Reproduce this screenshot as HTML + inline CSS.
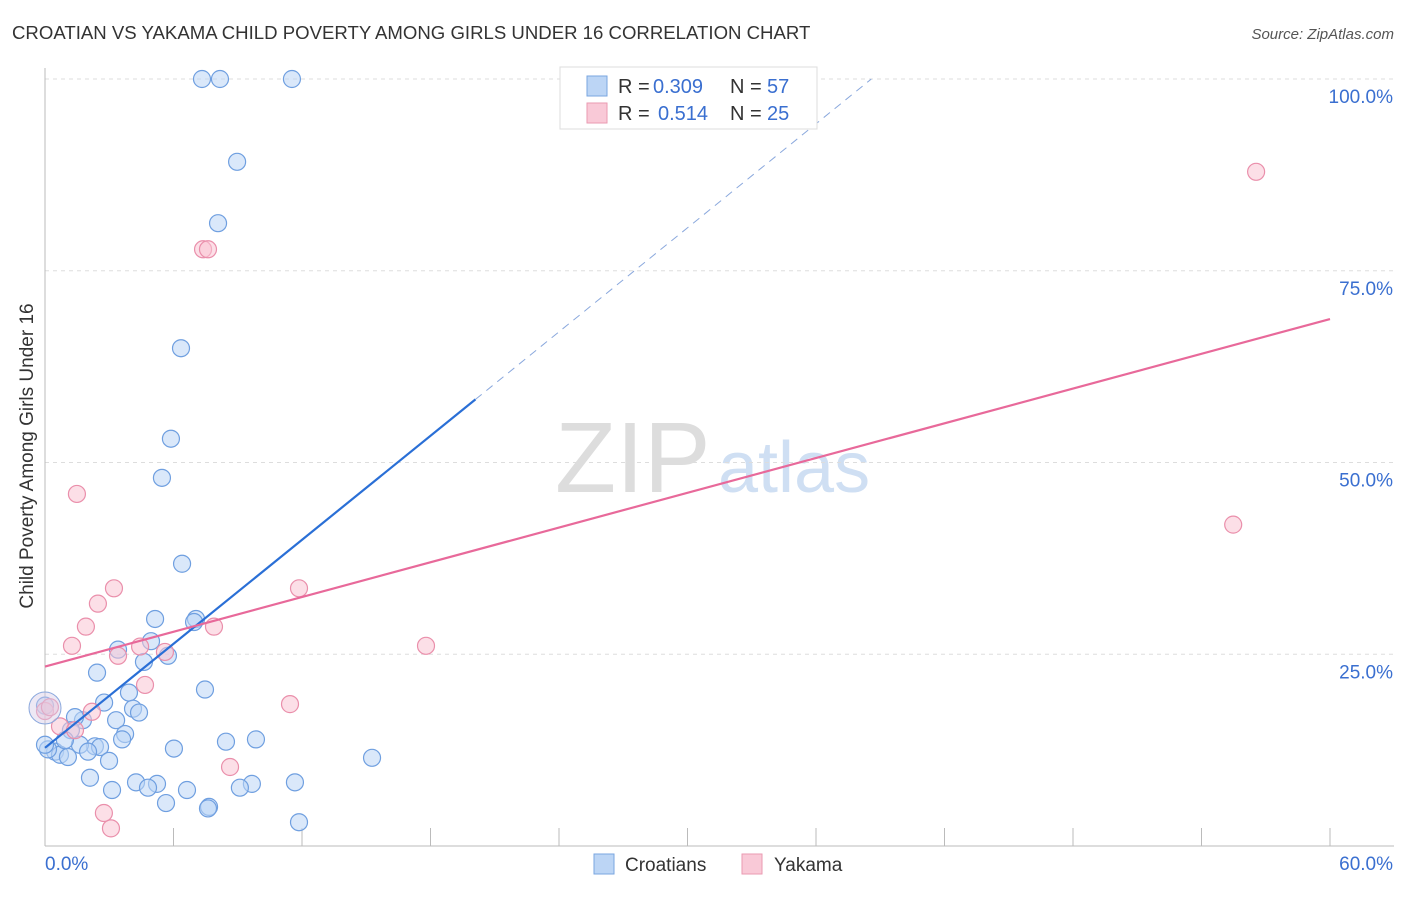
<!DOCTYPE html>
<html><head><meta charset="utf-8"><style>
body{margin:0;background:#fff;font-family:"Liberation Sans",sans-serif;}
svg text{font-family:"Liberation Sans",sans-serif;}
</style></head><body>
<svg id="chart" width="1406" height="892" xmlns="http://www.w3.org/2000/svg">
<text x="12" y="39" font-size="18.6" fill="#333">CROATIAN VS YAKAMA CHILD POVERTY AMONG GIRLS UNDER 16 CORRELATION CHART</text>
<text x="1394" y="39" font-size="15" fill="#555" text-anchor="end" font-style="italic">Source: ZipAtlas.com</text>
<text transform="translate(33,456) rotate(-90)" font-size="19" fill="#333" text-anchor="middle">Child Poverty Among Girls Under 16</text>
<g><text x="555" y="492" font-size="100" fill="#ddd" font-family="Liberation Serif">ZIP</text><text x="718" y="492" font-size="72" fill="#cfdff3">atlas</text></g>
<g id="grid"></g><g id="marks"></g>
<g>
<rect x="560" y="67" width="257" height="62" fill="#fff" stroke="#ddd"/>
<rect x="587" y="76" width="20" height="20" fill="#bcd5f5" stroke="#7aa6e0"/>
<rect x="587" y="103" width="20" height="20" fill="#f9c9d7" stroke="#ea9ab2"/>
<text x="618" y="93" font-size="20" fill="#333">R =</text>
<text x="653" y="93" font-size="20" fill="#3a6fd0">0.309</text>
<text x="730" y="93" font-size="20" fill="#333">N =</text>
<text x="767" y="93" font-size="20" fill="#3a6fd0">57</text>
<text x="618" y="120" font-size="20" fill="#333">R =</text>
<text x="658" y="120" font-size="20" fill="#3a6fd0">0.514</text>
<text x="730" y="120" font-size="20" fill="#333">N =</text>
<text x="767" y="120" font-size="20" fill="#3a6fd0">25</text>
</g>
<g>
<rect x="594" y="854" width="20" height="20" fill="#bcd5f5" stroke="#7aa6e0"/>
<text x="625" y="871" font-size="19" fill="#333">Croatians</text>
<rect x="742" y="854" width="20" height="20" fill="#f9c9d7" stroke="#ea9ab2"/>
<text x="774" y="871" font-size="19" fill="#333">Yakama</text>
</g>
</svg>
<script>
const xTicks=[0,60];
const yTicks=[25,50,75,100];
const croatX=[7.33,8.17,11.53,8.97,8.08,6.35,5.88,5.46,6.40,5.14,7.05,6.96,4.95,3.41,5.74,4.62,2.43,7.47,2.76,3.92,4.11,4.39,3.32,1.77,1.40,1.21,3.74,3.60,8.45,9.85,6.02,2.33,2.57,1.63,2.01,0.47,0.70,1.07,2.99,15.27,2.10,4.25,5.23,9.66,11.67,6.63,3.13,4.81,9.10,5.65,7.66,7.61,11.86,0,0.93,0.14,0];
const croatY=[100,100,100,89.2,81.2,64.9,53.1,48.0,36.8,29.6,29.6,29.2,26.7,25.6,24.8,24.0,22.6,20.4,18.7,20.0,17.9,17.4,16.4,16.4,16.8,15.1,14.6,13.9,13.6,13.9,12.7,13.0,12.9,13.2,12.3,12.3,11.9,11.6,11.1,11.5,8.9,8.3,8.1,8.1,8.3,7.3,7.3,7.6,7.6,5.6,5.1,4.9,3.1,18.3,13.8,12.6,13.2];
const yakX=[56.55,7.38,7.61,1.49,3.22,11.86,2.47,1.91,7.89,1.26,17.79,4.44,3.41,5.60,4.67,11.44,0,0.23,2.19,0.70,8.64,55.48,2.75,3.08,1.40];
const yakY=[87.9,77.8,77.8,45.9,33.6,33.6,31.6,28.6,28.6,26.1,26.1,26.0,24.8,25.3,21.0,18.5,17.6,18.1,17.5,15.6,10.3,41.9,4.3,2.3,15.1];
const blueTrend=[12.8,2.26];
const pinkTrend=[23.4,0.755];
</script>
<script>
const X0=45,X1=1330,Y0=846,Y100=79;
const xs=v=>X0+v/60*(X1-X0), ys=v=>Y0-v/100*(Y0-Y100);
const ns="http://www.w3.org/2000/svg";
const grid=document.getElementById('grid'),marks=document.getElementById('marks');
function mk(tag,attrs,parent){const e=document.createElementNS(ns,tag);for(const k in attrs)e.setAttribute(k,attrs[k]);parent.appendChild(e);return e;}
yTicks.forEach(t=>{const l=mk('line',{x1:45,x2:1394,y1:ys(t),y2:ys(t),stroke:'#ddd','stroke-dasharray':'4,4'},grid);


const tx=mk('text',{x:1393,y:ys(t)+24,'font-size':19,fill:'#3a6fd0','text-anchor':'end'},grid);tx.textContent=t.toFixed(1)+'%';

});
const ax=mk('line',{x1:45,x2:1394,y1:846,y2:846,stroke:'#bbb'},grid);


const ay=mk('line',{x1:45,x2:45,y1:68,y2:846,stroke:'#bbb'},grid);


for(let i=1;i<=10;i++){const tk=mk('line',{x1:xs(i*6),x2:xs(i*6),y1:828,y2:846,stroke:'#bbb'},grid);

}
xTicks.forEach((t,i)=>{const tx=mk('text',{x:i?1393:45,y:870,'font-size':19,fill:'#3a6fd0','text-anchor':i?'end':'start'},grid);tx.textContent=t.toFixed(1)+'%';

});
function dots(X,Y,fill,stroke,name){X.forEach((x,i)=>{const c=mk('circle',{cx:xs(x),cy:ys(Y[i]),r:8.5,fill:fill,'fill-opacity':0.55,stroke:stroke,'stroke-width':1.2},marks);

});}
dots(croatX,croatY,'#bcd5f5','#6f9fe0','croatian-point');
dots(yakX,yakY,'#f9c4d4','#ea8fab','yakama-point');
const big=mk('circle',{cx:xs(0),cy:ys(18),r:16,fill:'#d6cde6','fill-opacity':0.45,stroke:'#8aa8dd'},marks);


const bl=v=>blueTrend[0]+blueTrend[1]*v, pl=v=>pinkTrend[0]+pinkTrend[1]*v;
const xEnd=(100-blueTrend[0])/blueTrend[1];
const l1=mk('line',{x1:xs(0),y1:ys(bl(0)),x2:xs(20.1),y2:ys(bl(20.1)),stroke:'#2a6fd6','stroke-width':2.2},marks);


const l2=mk('line',{x1:xs(20.1),y1:ys(bl(20.1)),x2:xs(xEnd),y2:ys(100),stroke:'#8aa8dd','stroke-width':1,'stroke-dasharray':'8,6'},marks);


const l3=mk('line',{x1:xs(0),y1:ys(pl(0)),x2:xs(60),y2:ys(pl(60)),stroke:'#e8699a','stroke-width':2.2},marks);


</script>
</body></html>
